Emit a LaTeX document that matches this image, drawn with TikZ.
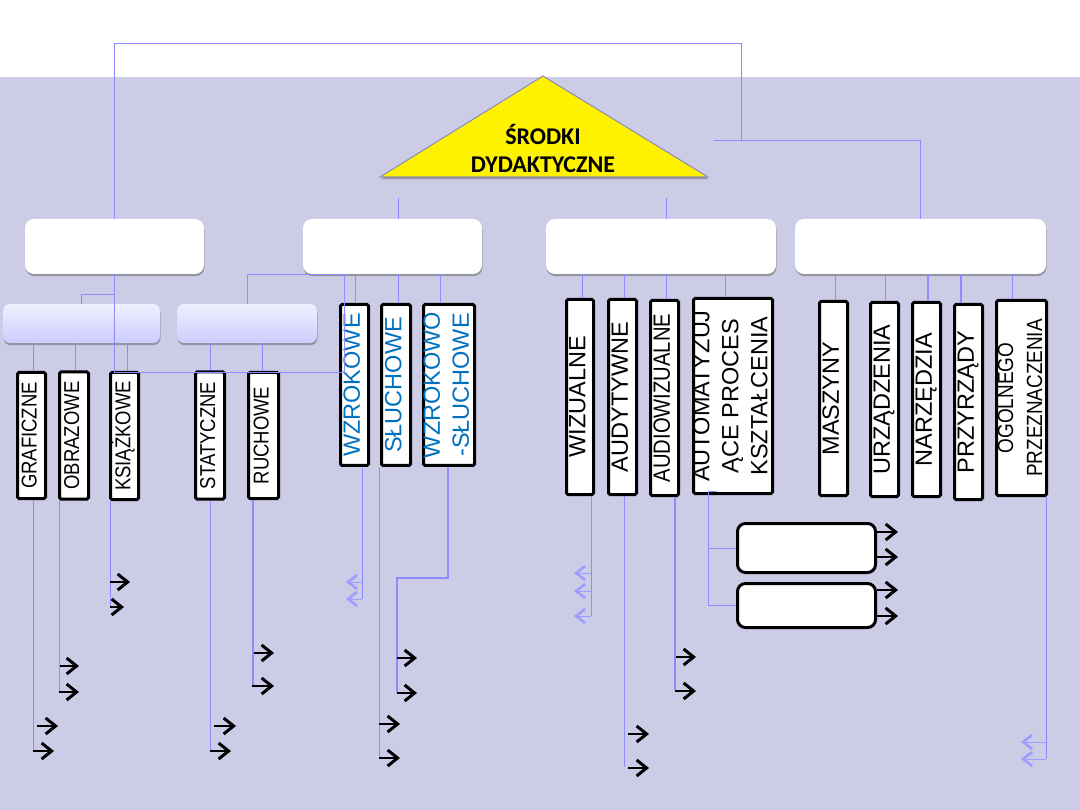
\documentclass[tikz,border=0pt]{standalone}
\usepackage{fontspec}
\setmainfont{Liberation Sans}
\newfontfamily\calibri{Carlito}
\newfontfamily\narrowsans[FakeStretch=0.86]{Liberation Sans}
\usepackage{graphicx}
\usetikzlibrary{positioning,arrows.meta,calc,shadows}
\definecolor{slidebg}{HTML}{CCCCE7}
\definecolor{linkblue}{HTML}{8C8CFF}
\definecolor{wordblue}{HTML}{0070C0}
\definecolor{lavtop}{HTML}{F0F0FF}
\definecolor{lavbot}{HTML}{CBCBFF}
\definecolor{trigray}{HTML}{8A8AB4}
\newcommand{\vtxt}[1]{\rotatebox{90}{\raisebox{-.25em}[0pt][0pt]{\begin{tabular}{@{}c@{}}#1\end{tabular}}}}

\begin{document}
\begin{tikzpicture}[x=1pt, y=-1pt,
    softshadow/.style={drop shadow={shadow xshift=0.5pt, shadow yshift=-2.2pt, opacity=0.55, fill=black!60}},
    mainbox/.style={fill=white, rounded corners=9pt, minimum height=55pt, inner sep=0pt, softshadow},
    lavbox/.style={top color=lavtop, bottom color=lavbot, rounded corners=7pt, minimum height=39pt, inner sep=0pt, softshadow},
    cat/.style={draw=black, line width=3pt, fill=white, inner sep=0pt, rounded corners=1.5pt},
    lettersm/.style={font=\narrowsans\fontsize{21.5}{25}\selectfont},
    letterlg/.style={font=\fontsize{23.5}{29}\selectfont},
    link/.style={linkblue, line width=1pt},
    heavy/.style={linkblue, line width=2pt},
    pointer/.style={black, line width=1.2pt, -{Straight Barb[length=10pt, width=16pt, line width=3pt]}},
    backtip/.style={linkblue!85, line width=1pt, -{Straight Barb[length=9pt, width=14pt, line width=2.6pt]}}]
    \useasboundingbox (0,0) rectangle (1080,810);
    \fill[white] (0,0) rectangle (1080,77);
    \fill[slidebg] (0,77) rectangle (1080,810);

    \coordinate (apex) at (543,76);
    \filldraw[fill=yellow, draw=trigray, line width=1pt, softshadow] (apex) -- (380,177) -- (708,177) -- cycle;
    \node[font=\calibri\bfseries\fontsize{24}{28}\selectfont, align=center] (title) at (543,149) {ŚRODKI\\DYDAKTYCZNE};

    \node[mainbox, minimum width=179pt] (grpA) at (114.5,246.5) {};
    \node[mainbox, minimum width=179pt] (grpB) at (392.5,246.5) {};
    \node[mainbox, minimum width=230pt] (grpC) at (661,246.5) {};
    \node[mainbox, minimum width=251pt] (grpD) at (920.5,246.5) {};
    \node[lavbox, minimum width=157pt] (subA) at (81.5,323.5) {};
    \node[lavbox, minimum width=140pt] (subB) at (247,323.5) {};

    \node[cat, lettersm, minimum width=28pt, minimum height=126pt] (gra) at (31.5,435.5) {\vtxt{GRAFICZNE}};
    \node[cat, lettersm, minimum width=29pt, minimum height=127pt] (obr) at (74,435.5) {\vtxt{OBRAZOWE}};
    \node[cat, lettersm, minimum width=28pt, minimum height=127pt] (ksi) at (124.5,436) {\vtxt{KSIĄŻKOWE}};
    \node[cat, lettersm, minimum width=29pt, minimum height=127pt] (sta) at (210,435.5) {\vtxt{STATYCZNE}};
    \node[cat, lettersm, minimum width=30pt, minimum height=126pt] (ruc) at (263.5,435.5) {\vtxt{RUCHOWE}};

    \node[cat, letterlg, text=wordblue, minimum width=28pt, minimum height=161pt] (wzr) at (354.5,385) {\vtxt{WZROKOWE}};
    \node[cat, letterlg, text=wordblue, minimum width=29pt, minimum height=161pt] (slu) at (396,385) {\vtxt{SŁUCHOWE}};
    \node[cat, letterlg, text=wordblue, minimum width=51pt, minimum height=161pt] (wzs) at (449,385) {\vtxt{WZROKOWO\\-SŁUCHOWE}};

    \node[cat, letterlg, minimum width=27pt, minimum height=195pt] (wiz) at (580,397) {\vtxt{WIZUALNE}};
    \node[cat, letterlg, minimum width=28pt, minimum height=195pt] (aud) at (622.5,397) {\vtxt{AUDYTYWNE}};
    \node[cat, font=\narrowsans\fontsize{23.5}{28}\selectfont, minimum width=28pt, minimum height=195pt] (avz) at (664.5,398) {\vtxt{AUDIOWIZUALNE}};
    \node[cat, letterlg, minimum width=79pt, minimum height=195pt] (aut) at (733,396) {\vtxt{AUTOMATYZUJ\\ĄCE PROCES\\KSZTAŁCENIA}};

    \node[cat, letterlg, minimum width=28pt, minimum height=194pt] (mas) at (833.5,398.5) {\vtxt{MASZYNY}};
    \node[cat, letterlg, minimum width=28pt, minimum height=194pt] (urz) at (884.5,399.5) {\vtxt{URZĄDZENIA}};
    \node[cat, letterlg, minimum width=28pt, minimum height=194pt] (nar) at (926.5,399.5) {\vtxt{NARZĘDZIA}};
    \node[cat, letterlg, minimum width=28pt, minimum height=195pt] (prz) at (968.5,402) {\vtxt{PRZYRZĄDY}};
    \node[cat, font=\narrowsans\fontsize{22}{29}\selectfont, minimum width=50pt, minimum height=195pt] (ogo) at (1021.5,398) {\vtxt{OGOLNEGO\\PRZEZNACZENIA}};

    \node[cat, rounded corners=8pt, minimum width=138pt, minimum height=49pt] (autA) at (806.5,548) {};
    \node[cat, rounded corners=8pt, minimum width=138pt, minimum height=44pt] (autB) at (806.5,605.5) {};

    \coordinate (top) at (741,44);
    \coordinate (hub) at (741,141);
    \coordinate (hubL) at (714,141);
    \coordinate (fork) at (114.5,295);
    \coordinate (bend) at (344,373);
    \coordinate (stubB) at (398,198);
    \coordinate (stubC) at (666,198);
    \draw[link] (grpA.north) |- (top) -- (hub);
    \draw[link] (hubL) -| (grpD.north);
    \draw[link] (stubB) -- (stubB |- grpB.north);
    \draw[link] (stubC) -- (stubC |- grpC.north);
    \draw[link] (grpA.south) |- (bend) -- (bend |- grpB.south) -| (subB.north);
    \draw[link] (fork) -| (subA.north);

    \foreach \n/\dx in {gra/1.5, obr/1, ksi/2.5}
      \draw[link] ($(\n.north)+(\dx,0)$) -- ($(\n.north |- subA.south)+(\dx,0)$);
    \foreach \n/\dx in {sta/0, ruc/-1.5}
      \draw[link] ($(\n.north)+(\dx,0)$) -- ($(\n.north |- subB.south)+(\dx,0)$);
    \foreach \n/\dx in {wzr/0.5, slu/2, wzs/-9}
      \draw[link] ($(\n.north)+(\dx,0)$) -- ($(\n.north |- grpB.south)+(\dx,0)$);
    \foreach \n/\dx in {wiz/2, aud/1.5, avz/1.5, aut/-8}
      \draw[link] ($(\n.north)+(\dx,0)$) -- ($(\n.north |- grpC.south)+(\dx,0)$);
    \foreach \n/\dx in {mas/1.5, urz/0.5, ogo/-9.5}
      \draw[link] ($(\n.north)+(\dx,0)$) -- ($(\n.north |- grpD.south)+(\dx,0)$);
    \foreach \n/\dx in {nar/1.5, prz/-7.5}
      \draw[heavy] ($(\n.north)+(\dx,0)$) -- ($(\n.north |- grpD.south)+(\dx,0)$);

    \coordinate (graEnd) at (33,750);
    \coordinate (obrEnd) at (59,692);
    \coordinate (ksiEnd) at (110,607);
    \coordinate (staEnd) at (210,751);
    \coordinate (rucEnd) at (253,685);
    \coordinate (wzrEnd) at (362,599);
    \coordinate (sluEnd) at (379,758);
    \coordinate (wzsBend) at (448,578);
    \coordinate (wzsEnd) at (397,693);
    \coordinate (wizEnd) at (591,616);
    \coordinate (audEnd) at (624,767);
    \coordinate (avzEnd) at (675,690);
    \coordinate (autEnd) at (708,605);
    \coordinate (ogoEnd) at (1046,759);
    \foreach \n in {gra, obr, ksi, sta, wzr, slu, wiz, aud, ogo}
      \draw[link] (\n End |- \n.south) -- (\n End);
    \draw[heavy] (rucEnd |- ruc.south) -- (rucEnd);
    \draw[heavy] (avzEnd |- avz.south) -- (avzEnd);
    \draw[heavy] (wzsBend |- wzs.south) -- (wzsBend) -| (wzsEnd);
    \draw[link] (717,491) -- (autEnd |- 0,491) -- (autEnd) -- (autEnd -| autB.west);
    \draw[link] (autEnd |- autA.west) -- (autA.west);

    \foreach \x/\y/\l in {37/726/21, 33/751/21, 60/666/19, 59/692/20, 110/582/20, 110/607/14,
                         214/726/22, 210/751/21, 254/653/20, 252/686/22, 379/724/21, 379/758/21,
                         397/658/20, 397/693/20, 628/734/21, 628/768/21, 676/657/20, 675/691/21}
      \draw[pointer] (\x,\y) -- ++(\l,0);
    \foreach \y in {532, 557}
      \draw[pointer] (autA.east |- 0,\y) -- ++(21,0);
    \foreach \y in {590, 616}
      \draw[pointer] (autB.east |- 0,\y) -- ++(21,0);

    \foreach \y in {582, 599}
      \draw[backtip] (wzrEnd |- 0,\y) -- ++(-16,0);
    \foreach \y in {573, 591, 616}
      \draw[backtip] (wizEnd |- 0,\y) -- ++(-17,0);
    \foreach \y in {742, 759}
      \draw[backtip] (ogoEnd |- 0,\y) -- ++(-25,0);
  \end{tikzpicture}
\end{document}
